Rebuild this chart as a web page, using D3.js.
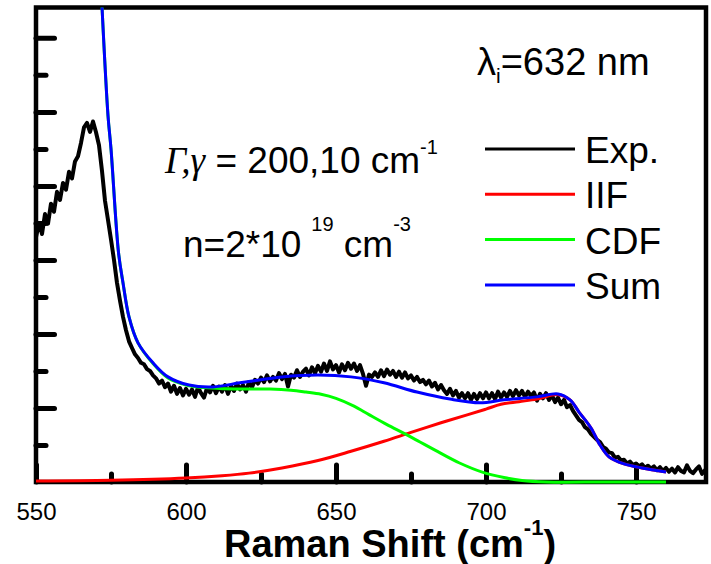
<!DOCTYPE html>
<html>
<head>
<meta charset="utf-8">
<script src="https://cdn.jsdelivr.net/npm/d3@7"></script>
<style>
body { margin: 0; background: #fff; }
svg { display: block; font-family: Arial, "Liberation Sans", sans-serif; }
</style>
</head>
<body>
<div id="chart"></div>
<script>
//Experimental spectrum, one value per cm-1 from 550 to 774 (arbitrary units)
var expShift = d3.range(550, 775);
var expIntensity = [
    6.62, 7.00, 6.70, 7.24, 6.98, 7.52, 7.30, 7.84, 7.62, 8.08,
    7.90, 8.38, 8.20, 8.66, 8.80, 9.16, 9.58, 9.70, 9.46, 9.74,
    9.45, 9.10, 8.40, 7.60, 7.08, 6.55, 6.00, 5.38, 4.90, 4.46,
    4.10, 3.80, 3.62, 3.45, 3.35, 3.22, 3.18, 3.05, 3.00, 2.88,
    2.80, 2.66, 2.74, 2.56, 2.66, 2.44, 2.60, 2.38, 2.54, 2.34,
    2.52, 2.36, 2.50, 2.30, 2.56, 2.40, 2.28, 2.54, 2.42, 2.60,
    2.40, 2.58, 2.44, 2.62, 2.38, 2.60, 2.46, 2.66, 2.50, 2.62,
    2.44, 2.70, 2.56, 2.76, 2.66, 2.82, 2.70, 2.88, 2.72, 2.84,
    2.74, 2.94, 2.78, 2.92, 2.58, 2.90, 2.82, 3.02, 2.84, 2.98,
    3.06, 2.88, 3.10, 2.94, 3.14, 2.98, 3.20, 3.00, 3.26, 3.04,
    3.16, 2.96, 3.18, 3.02, 3.22, 3.06, 3.20, 3.00, 3.16, 2.92,
    2.60, 2.90, 2.84, 2.96, 2.84, 3.02, 2.86, 3.04, 2.90, 3.00,
    2.84, 2.98, 2.82, 2.96, 2.80, 2.88, 2.74, 2.84, 2.70, 2.76,
    2.64, 2.74, 2.58, 2.68, 2.50, 2.62, 2.48, 2.38, 2.52, 2.34,
    2.46, 2.28, 2.40, 2.26, 2.40, 2.22, 2.38, 2.24, 2.40, 2.26,
    2.42, 2.26, 2.40, 2.24, 2.44, 2.28, 2.42, 2.30, 2.46, 2.32,
    2.48, 2.34, 2.46, 2.30, 2.44, 2.32, 2.42, 2.20, 2.38, 2.26,
    2.40, 2.22, 2.34, 2.16, 2.28, 2.10, 2.22, 2.02, 2.08, 1.92,
    1.80, 1.68, 1.62, 1.48, 1.42, 1.30, 1.22, 1.14, 1.08, 0.95,
    0.90, 0.80, 0.78, 0.66, 0.68, 0.58, 0.60, 0.50, 0.55, 0.46,
    0.50, 0.42, 0.48, 0.38, 0.44, 0.36, 0.42, 0.32, 0.40, 0.30,
    0.38, 0.28, 0.36, 0.26, 0.40, 0.30, 0.26, 0.45, 0.30, 0.24,
    0.34, 0.42, 0.22, 0.32, 0.28
];

//IIF fit
var iifShift = [550, 575, 600, 612, 621, 632, 644, 655, 666, 675, 685, 694, 700, 705, 711, 717, 724, 728, 731, 735, 738, 741, 746, 752, 760];
var iifIntensity = [0.03, 0.05, 0.11, 0.17, 0.24, 0.38, 0.58, 0.83, 1.10, 1.34, 1.60, 1.82, 1.97, 2.10, 2.17, 2.24, 2.36, 2.22, 1.89, 1.46, 1.00, 0.68, 0.49, 0.38, 0.27];

//CDF fit
var cdfShift = [570, 572, 574, 575, 577.5, 579, 581, 584, 589, 594, 600, 606, 613, 620, 628, 635, 640, 645, 650, 656, 661, 667, 673, 678, 683, 691, 699, 706, 712, 720, 740, 760];
var cdfIntensity = [16.5, 12.84, 9.9, 9.0, 6.2, 5.38, 4.46, 3.76, 3.20, 2.81, 2.62, 2.55, 2.52, 2.51, 2.51, 2.48, 2.43, 2.37, 2.26, 2.05, 1.82, 1.55, 1.30, 1.08, 0.86, 0.52, 0.26, 0.12, 0.04, 0.0, 0.0, 0.0];

//Sum of both fits
var sumShift = [570, 572, 574, 575, 577.5, 579, 581, 584, 589, 594, 601, 609, 618, 625, 632, 644, 655, 666, 677, 688, 698, 706, 717, 724, 728, 731, 735, 738, 741, 746, 752, 760];
var sumIntensity = [16.5, 12.84, 9.9, 9.0, 6.2, 5.38, 4.46, 3.76, 3.22, 2.84, 2.62, 2.57, 2.68, 2.76, 2.84, 2.89, 2.84, 2.68, 2.43, 2.24, 2.14, 2.22, 2.30, 2.38, 2.22, 1.89, 1.46, 1.00, 0.68, 0.49, 0.38, 0.27];

var xTickLabels = [550, 600, 650, 700, 750];
var xMinorTicks = [575, 625, 675, 725];
var yMajorTicks = [2, 4, 6, 8, 10, 12];
var yMinorTicks = [1, 3, 5, 7, 9, 11];

var seriesNames = ["Exp.", "IIF", "CDF", "Sum"];
var seriesColors = ["#000000", "#ff0000", "#00ff00", "#0000ff"];

function draw_spectrum() {
    "use strict";
    var width = 711, height = 564;
    var left = 36, right = 706, top = 7.5, bottom = 482;

    var svg = d3.select("#chart")
        .append("svg")
        .attr("width", width)
        .attr("height", height);

    //Scales
    var x = d3.scaleLinear().domain([550, 550 + (right - left) / 3]).range([left, right]);
    var y = d3.scaleLinear().domain([0, 12.82]).range([bottom, top]);

    //Clip the curves to the frame
    svg.append("clipPath")
        .attr("id", "plotclip")
        .append("rect")
        .attr("x", left)
        .attr("y", top)
        .attr("width", right - left)
        .attr("height", bottom - top + 2);

    //Axes (ticks point inward, domain line replaced by the frame)
    function styleAxis(g) {
        g.select(".domain").remove();
        g.selectAll(".tick line")
            .attr("stroke", "#000")
            .attr("stroke-width", 5)
            .attr("stroke-linecap", "round");
    }

    svg.append("g")
        .attr("transform", "translate(0," + bottom + ")")
        .call(d3.axisBottom(x).tickValues(xTickLabels).tickSizeInner(-17).tickSizeOuter(0).tickPadding(21))
        .call(styleAxis)
        .selectAll("text")
        .attr("font-family", "Arial, 'Liberation Sans', sans-serif")
        .attr("font-size", "24px")
        .attr("fill", "#000");

    svg.append("g")
        .attr("transform", "translate(0," + bottom + ")")
        .call(d3.axisBottom(x).tickValues(xMinorTicks).tickSizeInner(-8).tickSizeOuter(0).tickFormat(""))
        .call(styleAxis);

    svg.append("g")
        .attr("transform", "translate(" + left + ",0)")
        .call(d3.axisLeft(y).tickValues(yMajorTicks).tickSizeInner(-18.5).tickSizeOuter(0).tickFormat(""))
        .call(styleAxis);

    svg.append("g")
        .attr("transform", "translate(" + left + ",0)")
        .call(d3.axisLeft(y).tickValues(yMinorTicks).tickSizeInner(-10).tickSizeOuter(0).tickFormat(""))
        .call(styleAxis);

    //Frame
    svg.append("rect")
        .attr("x", left)
        .attr("y", top)
        .attr("width", right - left)
        .attr("height", bottom - top)
        .attr("fill", "none")
        .attr("stroke", "#000")
        .attr("stroke-width", 4.5);

    //Curves
    var rough = d3.line()
        .x(function (d) { return x(d[0]); })
        .y(function (d) { return y(d[1]); });
    var smooth = d3.line()
        .curve(d3.curveCatmullRom.alpha(0.5))
        .x(function (d) { return x(d[0]); })
        .y(function (d) { return y(d[1]); });

    var curves = svg.append("g").attr("clip-path", "url(#plotclip)");

    curves.append("path")
        .datum(d3.zip(expShift, expIntensity))
        .attr("d", rough)
        .attr("fill", "none")
        .attr("stroke", seriesColors[0])
        .attr("stroke-width", 4)
        .attr("stroke-linejoin", "round");

    [[iifShift, iifIntensity], [cdfShift, cdfIntensity], [sumShift, sumIntensity]].forEach(function (s, i) {
        curves.append("path")
            .datum(d3.zip(s[0], s[1]))
            .attr("d", smooth)
            .attr("fill", "none")
            .attr("stroke", seriesColors[i + 1])
            .attr("stroke-width", 3);
    });

    //Legend
    var legend = svg.append("g");
    seriesNames.forEach(function (name, i) {
        var ly = 149 + i * 45.3;
        legend.append("line")
            .attr("x1", 485).attr("x2", 575)
            .attr("y1", ly).attr("y2", ly)
            .attr("stroke", seriesColors[i])
            .attr("stroke-width", 3);
        legend.append("text")
            .attr("x", 585)
            .attr("y", ly + 14)
            .attr("font-size", "37px")
            .text(name);
    });

    //Annotations
    var lam = svg.append("text")
        .attr("x", 477).attr("y", 75)
        .attr("font-size", "38px");
    lam.append("tspan").text("\u03bb");
    lam.append("tspan").attr("font-size", "21px").attr("dy", 8).text("i");
    lam.append("tspan").attr("dy", -8).text("=632 nm");

    var gam = svg.append("text")
        .attr("x", 165).attr("y", 173)
        .attr("font-size", "37px");
    gam.append("tspan")
        .attr("font-family", "'Times New Roman', 'Liberation Serif', serif")
        .attr("font-style", "italic")
        .text("\u0393,\u03b3");
    gam.append("tspan").text(" = 200,10 cm");
    gam.append("tspan").attr("font-size", "20px").attr("dy", -19).text("-1");

    var dens = svg.append("text")
        .attr("x", 183).attr("y", 257)
        .attr("font-size", "37px");
    dens.append("tspan").text("n=2*10");
    dens.append("tspan").attr("font-size", "20px").attr("dx", 10).attr("dy", -26).text("19");
    dens.append("tspan").attr("dy", 26).text(" cm");
    dens.append("tspan").attr("font-size", "20px").attr("dy", -26).text("-3");

    //Axis title
    var title = svg.append("text")
        .attr("x", 224).attr("y", 557)
        .attr("font-size", "38px")
        .attr("font-weight", "bold");
    title.append("tspan").text("Raman Shift (cm");
    title.append("tspan").attr("font-size", "22px").attr("dy", -22).text("-1");
    title.append("tspan").attr("dy", 22).text(")");
}

draw_spectrum();
</script>
</body>
</html>
